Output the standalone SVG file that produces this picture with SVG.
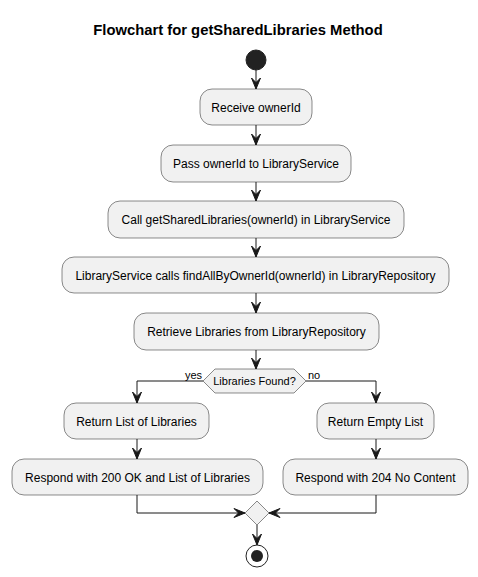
<svg xmlns="http://www.w3.org/2000/svg" width="478" height="577" viewBox="0 0 478 577">
<style>
.box{fill:#F1F1F1;stroke:#181818;stroke-width:0.5}
.t{font-family:"Liberation Sans",Arial,sans-serif;font-size:12px;fill:#000;text-anchor:middle}
.lbl{font-family:"Liberation Sans",Arial,sans-serif;font-size:11px;fill:#000}
.ln{fill:none;stroke:#181818;stroke-width:1}
.ah{fill:#181818;stroke:#181818;stroke-width:1}
</style>
<defs>
<polygon id="ad" class="ah" points="-4.5,-11 0,0 4.5,-11 0,-6.5"/>
<polygon id="ar" class="ah" points="-11,-4.5 0,0 -11,4.5 -6.5,0"/>
<polygon id="al" class="ah" points="11,-4.5 0,0 11,4.5 6.5,0"/>
</defs>
<rect width="478" height="577" fill="#FFFFFF"/>
<text x="238" y="35" font-family="'Liberation Sans',Arial,sans-serif" font-size="14.8" font-weight="bold" text-anchor="middle">Flowchart for getSharedLibraries Method</text>

<g id="connectors">
<line class="ln" x1="256" y1="70" x2="256" y2="89"/><use href="#ad" x="256" y="89"/>
<line class="ln" x1="256" y1="125" x2="256" y2="145"/><use href="#ad" x="256" y="145"/>
<line class="ln" x1="256" y1="182" x2="256" y2="201"/><use href="#ad" x="256" y="201"/>
<line class="ln" x1="256" y1="238" x2="256" y2="257"/><use href="#ad" x="256" y="257"/>
<line class="ln" x1="256" y1="293" x2="256" y2="313"/><use href="#ad" x="256" y="313"/>
<line class="ln" x1="256" y1="350" x2="256" y2="369"/><use href="#ad" x="256" y="369"/>
<polyline class="ln" points="203,381 137,381 137,403"/><use href="#ad" x="137" y="403"/>
<polyline class="ln" points="306,381 376,381 376,403"/><use href="#ad" x="376" y="403"/>
<line class="ln" x1="137" y1="439" x2="137" y2="459"/><use href="#ad" x="137" y="459"/>
<line class="ln" x1="376" y1="439" x2="376" y2="459"/><use href="#ad" x="376" y="459"/>
<polyline class="ln" points="137,495 137,513 245,513"/><use href="#ar" x="245" y="513"/>
<polyline class="ln" points="376,495 376,513 269,513"/><use href="#al" x="269" y="513"/>
<line class="ln" x1="257" y1="525" x2="257" y2="545"/><use href="#ad" x="257" y="545"/>
<text class="lbl" x="185" y="379">yes</text>
<text class="lbl" x="308" y="379">no</text>
</g>

<g id="start"><circle cx="256" cy="60" r="10" fill="#222222" stroke="#222222"/></g>
<g id="n1"><rect class="box" x="200" y="89" width="112" height="36" rx="12"/><text class="t" x="256" y="111.5">Receive ownerId</text></g>
<g id="n2"><rect class="box" x="161" y="145" width="190" height="37" rx="12"/><text class="t" x="256" y="168">Pass ownerId to LibraryService</text></g>
<g id="n3"><rect class="box" x="108" y="201" width="296" height="37" rx="12"/><text class="t" x="256" y="224">Call getSharedLibraries(ownerId) in LibraryService</text></g>
<g id="n4"><rect class="box" x="62" y="257" width="387" height="36" rx="12"/><text class="t" x="255.5" y="279.5">LibraryService calls findAllByOwnerId(ownerId) in LibraryRepository</text></g>
<g id="n5"><rect class="box" x="134" y="313" width="245" height="37" rx="12"/><text class="t" x="256.5" y="336">Retrieve Libraries from LibraryRepository</text></g>
<g id="decision"><polygon class="box" points="203,381 215,369 294,369 306,381 294,393 215,393"/><text class="lbl" x="254.5" y="385" text-anchor="middle">Libraries Found?</text></g>
<g id="n6"><rect class="box" x="64" y="403" width="145" height="36" rx="12"/><text class="t" x="136.5" y="425.5">Return List of Libraries</text></g>
<g id="n7"><rect class="box" x="317" y="403" width="117" height="36" rx="12"/><text class="t" x="375.5" y="425.5">Return Empty List</text></g>
<g id="n8"><rect class="box" x="12" y="459" width="251" height="36" rx="12"/><text class="t" x="137.5" y="481.5">Respond with 200 OK and List of Libraries</text></g>
<g id="n9"><rect class="box" x="283" y="459" width="185" height="36" rx="12"/><text class="t" x="375.5" y="481.5">Respond with 204 No Content</text></g>
<g id="merge"><polygon class="box" points="245,513 257,501 269,513 257,525"/></g>
<g id="end"><circle cx="257" cy="556" r="11" fill="none" stroke="#222222" stroke-width="1"/><circle cx="257" cy="556" r="6" fill="#222222"/></g>
</svg>
